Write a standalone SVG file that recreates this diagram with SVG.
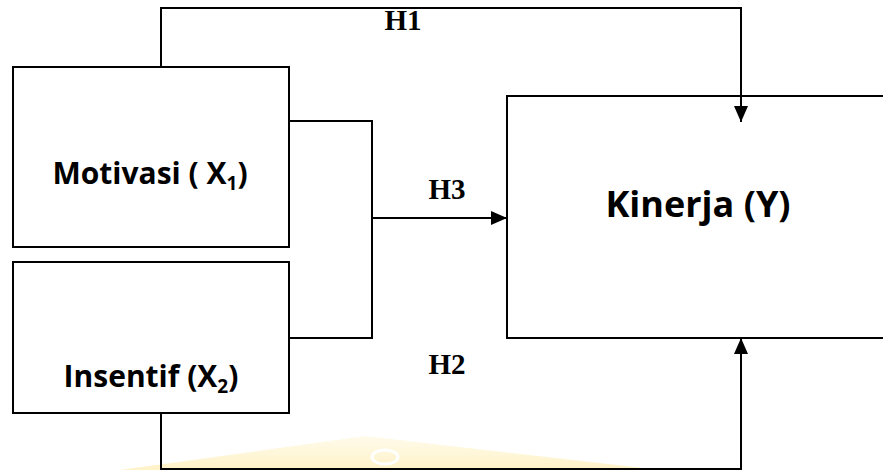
<svg xmlns="http://www.w3.org/2000/svg" width="883" height="470" viewBox="0 0 883 470">
  <style>
    .box { fill: #ffffff; stroke: #000000; stroke-width: 2; }
    .wire { fill: none; stroke: #000000; stroke-width: 2; }
    .lbl { font-family: "Open Sans", "Noto Sans", "DejaVu Sans", sans-serif; font-weight: bold; fill: #000000; }
    .hyp { font-family: "Liberation Serif", "Times New Roman", serif; font-weight: bold; font-size: 29px; fill: #000000; }
  </style>
  <defs>
    <marker id="arrow" viewBox="0 0 16 14" refX="16" refY="7" markerWidth="16" markerHeight="14" markerUnits="userSpaceOnUse" orient="auto">
      <path d="M0,0 L16,7 L0,14 Z" fill="#000000"/>
    </marker>
    <linearGradient id="wm" x1="0" y1="0" x2="0" y2="1">
      <stop offset="0" stop-color="#fff8dc" stop-opacity="0.6"/>
      <stop offset="1" stop-color="#fff0bf" stop-opacity="0.9"/>
    </linearGradient>
  </defs>

  <rect width="883" height="470" fill="#ffffff"/>

  <!-- faint background emblem -->
  <g id="emblem">
    <polygon points="120,470 365,436 660,470" fill="url(#wm)"/>
    <ellipse cx="385" cy="457" rx="13" ry="7" fill="none" stroke="#ffffff" stroke-width="3"/>
  </g>

  <g id="motivasi">
    <rect class="box" x="13" y="67" width="276" height="180"/>
    <text class="lbl" x="150" y="184" font-size="30" text-anchor="middle">Motivasi ( X<tspan font-size="19" dy="6">1</tspan><tspan dy="-6">)</tspan></text>
  </g>

  <g id="insentif">
    <rect class="box" x="13" y="262" width="276" height="151"/>
    <text class="lbl" x="151" y="387" font-size="30" text-anchor="middle">Insentif (X<tspan font-size="19" dy="6">2</tspan><tspan dy="-6">)</tspan></text>
  </g>

  <g id="kinerja">
    <rect class="box" x="507" y="96" width="400" height="242"/>
    <text class="lbl" x="698" y="217" font-size="36" text-anchor="middle">Kinerja (Y)</text>
  </g>

  <!-- connectors -->
  <g id="connectors">
    <!-- H1: Motivasi to Kinerja over the top -->
    <polyline class="wire" points="161,67 161,8 741,8 741,122" marker-end="url(#arrow)"/>
    <!-- H3: joint bracket to Kinerja -->
    <polyline class="wire" points="289,121 372,121 372,338 289,338"/>
    <line class="wire" x1="372" y1="218" x2="507" y2="218" marker-end="url(#arrow)"/>
    <!-- H2: Insentif to Kinerja along the bottom -->
    <polyline class="wire" points="161,413 161,469 741,469 741,338" marker-end="url(#arrow)"/>
  </g>

  <g id="labels">
    <text class="hyp" x="403" y="30" text-anchor="middle">H1</text>
    <text class="hyp" x="447" y="199" text-anchor="middle">H3</text>
    <text class="hyp" x="447" y="374" text-anchor="middle">H2</text>
  </g>
</svg>
